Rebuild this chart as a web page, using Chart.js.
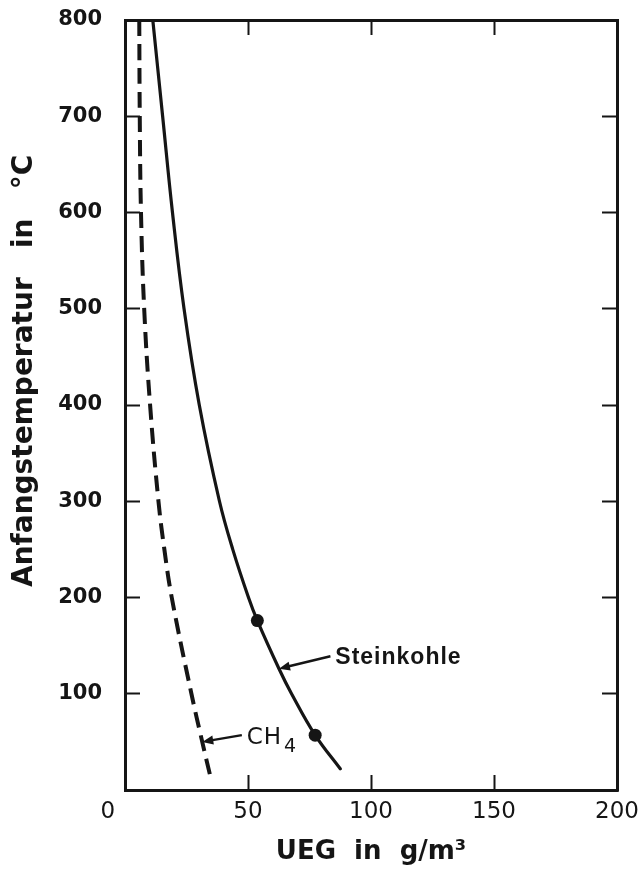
<!DOCTYPE html>
<html>
<head>
<meta charset="utf-8">
<title>UEG vs Anfangstemperatur</title>
<script src="https://cdn.jsdelivr.net/npm/chart.js@4.4.0/dist/chart.umd.min.js"></script>
<style>
  html, body { margin: 0; padding: 0; background: #fff; }
  #wrap { width: 644px; height: 880px; }
</style>
</head>
<body>
<div id="wrap"><canvas id="chart" width="644" height="880"></canvas></div>
<script>
// ============================================================
// Data
// ============================================================

// Steinkohle (solid curve)
const coalUeg  = [11.3, 15.3, 19.3, 24, 30.2, 38.4, 43.8, 50.2, 53.8, 62.6, 67.7, 77.3, 87.5];
const coalTemp = [800, 700, 600, 500, 400, 300, 250, 200, 176, 126, 100, 57, 22];

// measured points on the Steinkohle curve
const markerUeg  = [53.8, 77.3];
const markerTemp = [176, 57];

// CH4 (dashed curve)
const ch4Ueg  = [5.8, 6.0, 6.5, 7.8, 10.2, 13.6, 16.0, 19.0, 27, 31.4, 34.8];
const ch4Temp = [800, 700, 600, 500, 400, 300, 250, 200, 100, 50, 13];

// axis ticks
const xTicks = [0, 50, 100, 150, 200];
const yTicks = [0, 100, 200, 300, 400, 500, 600, 700, 800];

// callout labels: [ueg, temp] of arrow tip, arrow tail and text anchor
const calloutText = ['Steinkohle', 'CH'];
const calloutTip  = [[62.6, 126], [31.4, 50]];
const calloutTail = [[83.5, 139], [47.5, 57]];
const calloutAt   = [[85.5, 137], [49.5, 53.5]];

// ============================================================
// Helpers
// ============================================================

const INK = '#151515';

function toPoints(xs, ys) {
  return xs.map((v, i) => ({ x: v, y: ys[i] }));
}

function fixedTicks(values) {
  return (scale) => { scale.ticks = values.map(v => ({ value: v })); };
}

// keep tick labels from pushing the plot frame inwards
function noOverflow(scale) {
  scale.paddingTop = 0;
  scale.paddingBottom = 0;
  scale.paddingLeft = 0;
  scale.paddingRight = 0;
}

const tickGrid = {
  drawOnChartArea: false,
  tickLength: -15,
  tickWidth: 2,
  tickColor: INK,
};

const frame = { display: true, color: INK, width: 3 };

// arrows + text labels drawn through the scales
const calloutPlugin = {
  id: 'callouts',
  afterDatasetsDraw(chart) {
    const { ctx, scales: { x, y } } = chart;
    ctx.save();
    ctx.strokeStyle = INK;
    ctx.fillStyle = INK;
    ctx.lineWidth = 2.5;

    calloutTip.forEach((tip, i) => {
      const tx = x.getPixelForValue(tip[0]);
      const ty = y.getPixelForValue(tip[1]);
      const sx = x.getPixelForValue(calloutTail[i][0]);
      const sy = y.getPixelForValue(calloutTail[i][1]);
      const ang = Math.atan2(ty - sy, tx - sx);
      ctx.beginPath();
      ctx.moveTo(sx, sy);
      ctx.lineTo(tx - 6 * Math.cos(ang), ty - 6 * Math.sin(ang));
      ctx.stroke();
      // arrow head
      ctx.beginPath();
      ctx.moveTo(tx, ty);
      ctx.lineTo(tx - 11 * Math.cos(ang) + 4.5 * Math.sin(ang), ty - 11 * Math.sin(ang) - 4.5 * Math.cos(ang));
      ctx.lineTo(tx - 11 * Math.cos(ang) - 4.5 * Math.sin(ang), ty - 11 * Math.sin(ang) + 4.5 * Math.cos(ang));
      ctx.closePath();
      ctx.fill();
    });

    ctx.textBaseline = 'middle';
    ctx.textAlign = 'left';

    // Steinkohle
    ctx.font = 'bold 23px "Liberation Sans"';
    ctx.letterSpacing = '1px';
    ctx.fillText(calloutText[0], x.getPixelForValue(calloutAt[0][0]), y.getPixelForValue(calloutAt[0][1]));

    // CH4 with subscript
    const cx = x.getPixelForValue(calloutAt[1][0]);
    const cy = y.getPixelForValue(calloutAt[1][1]);
    ctx.font = '23px "DejaVu Sans"';
    ctx.letterSpacing = '1px';
    ctx.fillText(calloutText[1], cx, cy);
    const w = ctx.measureText(calloutText[1]).width;
    ctx.font = '19px "DejaVu Sans"';
    ctx.letterSpacing = '0px';
    ctx.fillText('4', cx + w + 2, cy + 9);
    ctx.restore();
  }
};

// ============================================================
// Chart
// ============================================================

const yTitle = '\u00A0'.repeat(7) + 'Anfangstemperatur\u00A0\u00A0\u00A0in\u00A0\u00A0\u00A0°C';

new Chart(document.getElementById('chart'), {
  type: 'scatter',
  data: {
    datasets: [
      {
        data: toPoints(markerUeg, markerTemp),
        showLine: false,
        pointRadius: 6.5,
        pointBackgroundColor: INK,
        pointBorderWidth: 0,
        order: 0,
      },
      {
        data: toPoints(coalUeg, coalTemp),
        showLine: true,
        borderColor: INK,
        borderWidth: 3.2,
        borderCapStyle: 'round',
        pointRadius: 0,
        tension: 0.4,
        order: 1,
      },
      {
        data: toPoints(ch4Ueg, ch4Temp),
        showLine: true,
        borderColor: INK,
        borderWidth: 4,
        borderDash: [16, 8],
        pointRadius: 0,
        tension: 0.4,
        order: 2,
      },
    ],
  },
  options: {
    responsive: false,
    animation: false,
    events: [],
    layout: { padding: { top: 20, right: 27, left: 0, bottom: 0 } },
    plugins: {
      legend: { display: false },
      tooltip: { enabled: false },
    },
    scales: {
      x: {
        type: 'linear',
        position: 'bottom',
        min: 0,
        max: 200,
        afterBuildTicks: fixedTicks(xTicks),
        ticks: {
          color: INK,
          padding: 23,
          maxRotation: 0,
          font: { family: 'DejaVu Sans', size: 23 },
          callback: v => (v === 0 ? '0\u2003\u2002' : String(v)),
        },
        grid: tickGrid,
        border: frame,
        title: {
          display: true,
          text: 'UEG\u00A0\u00A0in\u00A0\u00A0g/m³',
          color: INK,
          font: { family: 'DejaVu Sans', size: 26, weight: 'bold' },
          padding: { top: 0, bottom: 12 },
        },
        afterFit(scale) { noOverflow(scale); scale.height = 90; },
      },
      x2: {
        type: 'linear',
        position: 'top',
        min: 0,
        max: 200,
        afterBuildTicks: fixedTicks(xTicks),
        ticks: { display: false },
        grid: tickGrid,
        border: frame,
        afterFit(scale) { noOverflow(scale); scale.height = 0; },
      },
      y: {
        type: 'linear',
        position: 'left',
        min: 0,
        max: 800,
        afterBuildTicks: fixedTicks(yTicks),
        ticks: {
          color: INK,
          padding: 38,
          font: { family: 'DejaVu Sans', size: 21, weight: 'bold' },
          callback: v => (v === 0 ? '' : String(v)),
        },
        grid: tickGrid,
        border: frame,
        title: {
          display: true,
          text: yTitle,
          color: INK,
          font: { family: 'DejaVu Sans', size: 28, weight: 'bold' },
          padding: { top: 8, bottom: 0 },
        },
        afterFit(scale) { noOverflow(scale); scale.width = 125; },
      },
      y2: {
        type: 'linear',
        position: 'right',
        min: 0,
        max: 800,
        afterBuildTicks: fixedTicks(yTicks),
        ticks: { display: false },
        grid: tickGrid,
        border: frame,
        afterFit(scale) { noOverflow(scale); scale.width = 0; },
      },
    },
  },
  plugins: [calloutPlugin],
});
</script>
</body>
</html>
